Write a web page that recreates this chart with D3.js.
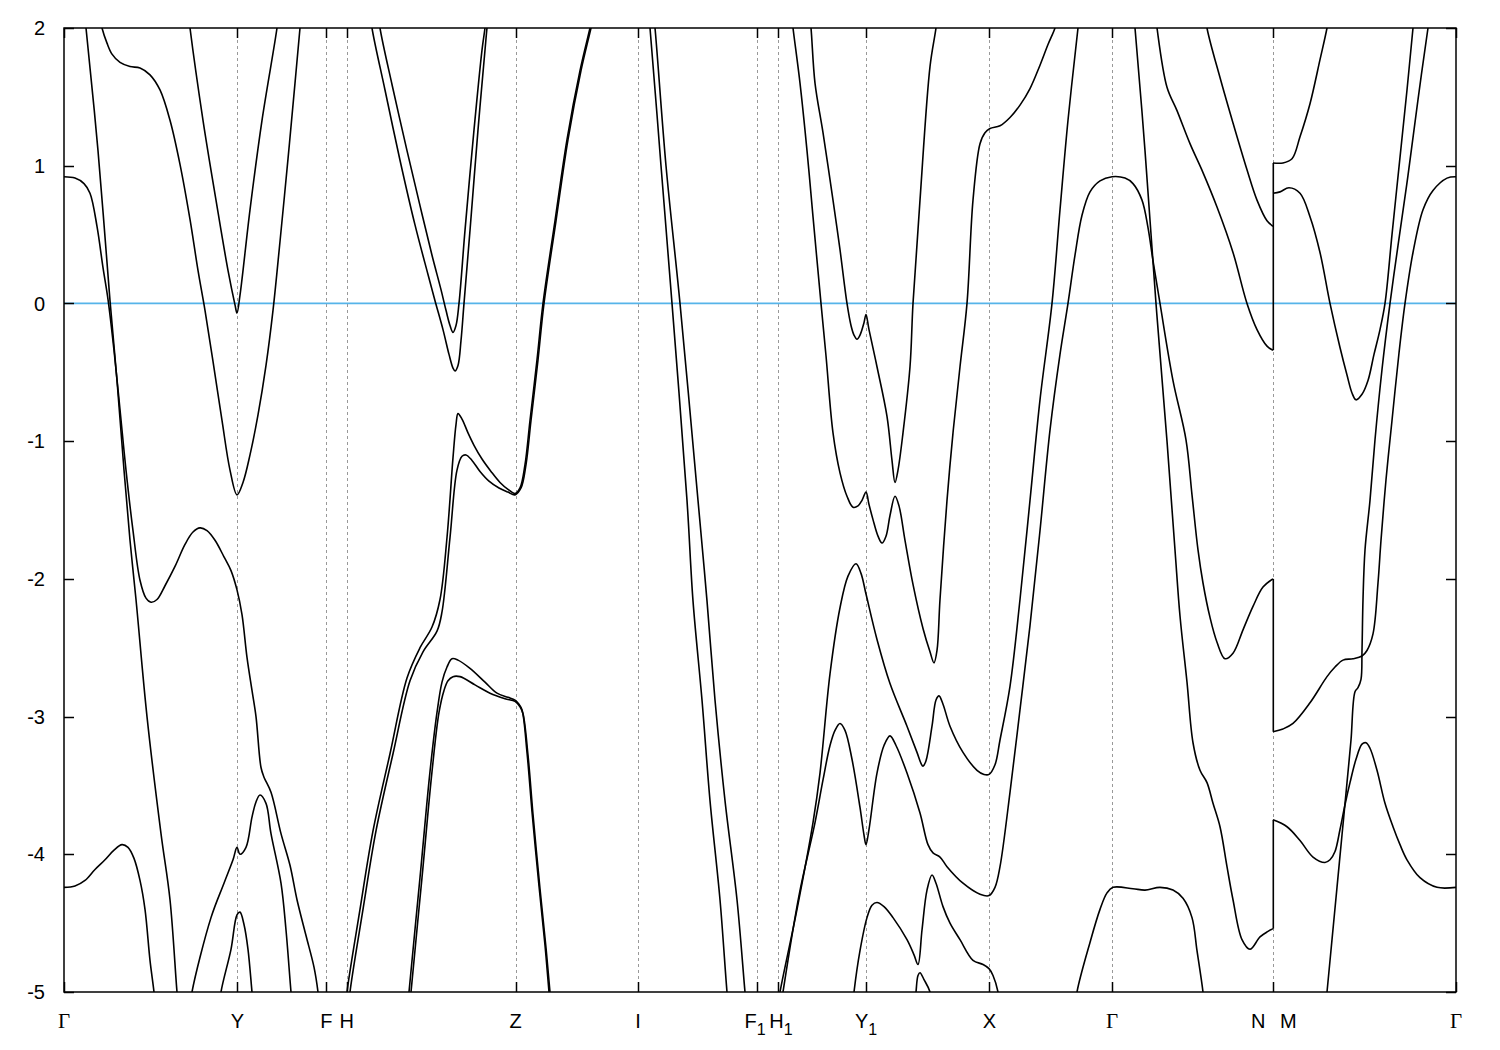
<!DOCTYPE html>
<html><head><meta charset="utf-8">
<script src="https://cdn.jsdelivr.net/npm/d3@7"></script>
<style>body{margin:0;background:#fff}</style>
</head><body>
<svg id="chart" width="1500" height="1050"></svg>
<script>
// ---- high-symmetry points (k path distance) and labels ----
const kTicks  = [0, 1.733, 2.623, 2.827, 4.517, 5.74, 6.925, 7.135, 8.02, 9.253, 10.48, 12.093, 13.92];
const kLabels = ["Γ", "Y", "F", "H", "Z", "I", "F_1", "H_1", "Y_1", "X", "Γ", "N|M", "Γ"];
const eTicks  = [-5, -4, -3, -2, -1, 0, 1, 2];
const fermiLevel = 0;

// ---- bands: [k, E(eV)] ----
const bandA = [[0,0.92],[0.11,0.91],[0.20,0.87],[0.26,0.80],[0.33,0.56],[0.39,0.26],[0.44,0.03],[0.50,-0.34],[0.56,-0.77],[0.62,-1.21],[0.69,-1.65],[0.76,-2.01],[0.82,-2.14],[0.87,-2.17],[0.93,-2.15],[1.01,-2.05],[1.11,-1.91],[1.21,-1.75],[1.29,-1.66],[1.36,-1.63],[1.43,-1.65],[1.51,-1.72],[1.60,-1.84],[1.67,-1.94],[1.73,-2.08],[1.78,-2.26],[1.83,-2.57],[1.88,-2.81],[1.92,-3.00],[1.97,-3.37],[2.00,-3.44],[2.07,-3.55],[2.17,-3.85],[2.26,-4.08],[2.33,-4.33],[2.42,-4.59],[2.50,-4.82],[2.54,-5.0],[2.56,-5.15]];
const bandL1 = [[0.20,2.13],[0.22,2.0],[0.34,1.11],[0.46,0.02],[0.53,-0.56],[0.60,-1.21],[0.66,-1.72],[0.72,-2.15],[0.83,-3.00],[0.97,-3.85],[1.06,-4.33],[1.13,-5.0],[1.15,-5.15]];
const bandG1 = [[0,-4.24],[0.11,-4.23],[0.21,-4.19],[0.31,-4.11],[0.41,-4.04],[0.50,-3.97],[0.58,-3.93],[0.64,-3.95],[0.70,-4.03],[0.76,-4.19],[0.81,-4.40],[0.86,-4.77],[0.90,-5.0],[0.92,-5.15]];
const bandB = [[0.36,2.07],[0.38,2.0],[0.43,1.89],[0.48,1.81],[0.56,1.75],[0.66,1.72],[0.76,1.71],[0.86,1.66],[0.96,1.55],[1.06,1.33],[1.16,1.01],[1.26,0.61],[1.34,0.24],[1.41,-0.05],[1.49,-0.42],[1.58,-0.85],[1.66,-1.21],[1.73,-1.39],[1.79,-1.30],[1.86,-1.10],[1.94,-0.81],[2.02,-0.45],[2.09,-0.05],[2.16,0.45],[2.24,1.05],[2.31,1.60],[2.36,2.0],[2.38,2.15]];
const bandV = [[1.24,2.13],[1.26,2.0],[1.39,1.33],[1.52,0.75],[1.64,0.24],[1.71,-0.01],[1.73,-0.07],[1.76,0.06],[1.86,0.68],[1.98,1.33],[2.13,2.0],[2.15,2.13]];
const bandD = [[1.26,-5.12],[1.28,-5.0],[1.47,-4.46],[1.60,-4.21],[1.69,-4.04],[1.73,-3.95],[1.76,-4.0],[1.82,-3.95],[1.88,-3.73],[1.92,-3.62],[1.96,-3.57],[2.02,-3.63],[2.07,-3.85],[2.17,-4.21],[2.22,-4.55],[2.27,-5.0],[2.29,-5.15]];
const bandE = [[1.55,-5.15],[1.57,-5.0],[1.67,-4.69],[1.73,-4.44],[1.76,-4.42],[1.80,-4.51],[1.84,-4.69],[1.88,-5.0],[1.90,-5.15]];
const bandP1 = [[2.82,-5.1],[2.83,-5.0],[2.96,-4.40],[3.09,-3.83],[3.26,-3.27],[3.43,-2.72],[3.56,-2.50],[3.68,-2.35],[3.76,-2.15],[3.83,-1.70],[3.89,-1.12],[3.92,-0.88],[3.94,-0.80],[3.98,-0.84],[4.04,-0.94],[4.10,-1.03],[4.18,-1.13],[4.27,-1.22],[4.36,-1.30],[4.44,-1.35],[4.51,-1.38],[4.56,-1.34],[4.61,-1.17],[4.66,-0.85],[4.73,-0.41],[4.79,0.0],[4.91,0.60],[5.03,1.19],[5.16,1.69],[5.26,2.0],[5.29,2.1]];
const bandP2 = [[2.85,-5.1],[2.86,-5.0],[2.99,-4.40],[3.12,-3.83],[3.29,-3.27],[3.46,-2.74],[3.59,-2.53],[3.73,-2.38],[3.78,-2.24],[3.86,-1.70],[3.93,-1.21],[3.98,-1.11],[4.02,-1.10],[4.08,-1.14],[4.16,-1.22],[4.25,-1.29],[4.35,-1.34],[4.44,-1.37],[4.51,-1.39],[4.57,-1.34],[4.62,-1.17],[4.67,-0.85],[4.74,-0.41],[4.80,0.0],[4.92,0.60],[5.04,1.19],[5.17,1.69],[5.27,2.0],[5.30,2.1]];
const bandQ1 = [[3.44,-5.1],[3.45,-5.0],[3.56,-4.17],[3.66,-3.40],[3.73,-2.97],[3.78,-2.75],[3.83,-2.64],[3.88,-2.58],[3.94,-2.59],[4.06,-2.65],[4.21,-2.75],[4.33,-2.83],[4.44,-2.86],[4.51,-2.88],[4.55,-2.91],[4.58,-2.95],[4.63,-3.26],[4.68,-3.69],[4.75,-4.23],[4.81,-4.66],[4.85,-5.0],[4.87,-5.15]];
const bandQ2 = [[3.46,-5.1],[3.47,-5.0],[3.58,-4.17],[3.68,-3.40],[3.75,-2.97],[3.80,-2.81],[3.84,-2.74],[3.89,-2.71],[3.96,-2.71],[4.11,-2.77],[4.26,-2.83],[4.41,-2.87],[4.51,-2.89],[4.56,-2.93],[4.59,-2.98],[4.64,-3.28],[4.69,-3.71],[4.76,-4.25],[4.82,-4.68],[4.86,-5.0],[4.88,-5.15]];
const bandU1 = [[3.06,2.13],[3.08,2.0],[3.21,1.55],[3.36,1.04],[3.51,0.57],[3.64,0.21],[3.71,0.02],[3.79,-0.19],[3.85,-0.37],[3.89,-0.47],[3.91,-0.49],[3.94,-0.45],[3.97,-0.27],[4.00,0.0],[4.06,0.53],[4.14,1.26],[4.21,1.84],[4.23,2.0],[4.25,2.13]];
const bandU2 = [[3.14,2.13],[3.16,2.0],[3.28,1.59],[3.43,1.11],[3.56,0.71],[3.68,0.35],[3.77,0.10],[3.82,-0.05],[3.86,-0.16],[3.89,-0.21],[3.92,-0.16],[3.95,0.0],[4.01,0.53],[4.10,1.26],[4.18,1.84],[4.21,2.0],[4.23,2.13]];
const bandI1 = [[5.84,2.13],[5.86,2.0],[5.97,1.0],[6.08,0.0],[6.23,-1.43],[6.29,-2.16],[6.38,-2.88],[6.46,-3.61],[6.56,-4.33],[6.63,-5.0],[6.65,-5.15]];
const bandI2 = [[5.89,2.13],[5.91,2.0],[6.02,1.0],[6.16,0.0],[6.34,-1.43],[6.43,-2.16],[6.51,-2.88],[6.61,-3.61],[6.73,-4.33],[6.81,-5.0],[6.83,-5.15]];
const bandR1 = [[7.14,-5.1],[7.16,-5.0],[7.33,-4.40],[7.49,-3.77],[7.56,-3.41],[7.66,-2.69],[7.76,-2.21],[7.84,-1.98],[7.92,-1.89],[7.97,-1.96],[8.02,-2.11],[8.13,-2.44],[8.26,-2.76],[8.43,-3.07],[8.53,-3.26],[8.57,-3.34],[8.59,-3.36],[8.62,-3.32],[8.68,-3.07],[8.72,-2.88],[8.75,-2.85],[8.79,-2.91],[8.86,-3.07],[8.99,-3.26],[9.13,-3.39],[9.20,-3.42],[9.25,-3.42],[9.31,-3.35],[9.36,-3.17],[9.46,-2.78],[9.56,-2.15],[9.66,-1.43],[9.76,-0.70],[9.88,0.0],[9.96,0.68],[10.04,1.33],[10.14,2.0],[10.16,2.13]];
const bandR2 = [[7.17,-5.1],[7.19,-5.0],[7.35,-4.30],[7.51,-3.77],[7.59,-3.46],[7.66,-3.21],[7.71,-3.10],[7.76,-3.05],[7.81,-3.10],[7.88,-3.31],[7.96,-3.66],[8.00,-3.86],[8.02,-3.93],[8.05,-3.82],[8.13,-3.41],[8.20,-3.21],[8.26,-3.14],[8.32,-3.21],[8.43,-3.41],[8.56,-3.70],[8.64,-3.93],[8.69,-3.99],[8.76,-4.02],[8.83,-4.09],[8.99,-4.21],[9.16,-4.29],[9.25,-4.30],[9.31,-4.24],[9.36,-4.09],[9.46,-3.55],[9.56,-2.95],[9.66,-2.34],[9.76,-1.65],[9.86,-0.92],[9.96,-0.37],[10.04,0.0],[10.11,0.35],[10.18,0.64],[10.26,0.81],[10.36,0.89],[10.48,0.92],[10.61,0.91],[10.69,0.87],[10.78,0.75],[10.84,0.55],[10.89,0.31],[10.96,0.0],[11.09,-0.56],[11.22,-0.99],[11.28,-1.39],[11.34,-1.79],[11.39,-2.03],[11.46,-2.28],[11.53,-2.46],[11.61,-2.58],[11.69,-2.54],[11.79,-2.37],[11.89,-2.20],[11.99,-2.06],[12.09,-2.0]];
const bandS1 = [[7.27,2.13],[7.29,2.0],[7.36,1.60],[7.43,1.11],[7.49,0.63],[7.57,0.0],[7.62,-0.38],[7.69,-0.94],[7.76,-1.23],[7.83,-1.40],[7.89,-1.48],[7.94,-1.47],[7.98,-1.43],[8.02,-1.37],[8.05,-1.46],[8.09,-1.57],[8.14,-1.69],[8.18,-1.74],[8.22,-1.69],[8.26,-1.54],[8.31,-1.40],[8.35,-1.47],[8.41,-1.72],[8.49,-2.04],[8.59,-2.36],[8.66,-2.53],[8.70,-2.61],[8.73,-2.52],[8.76,-2.15],[8.83,-1.43],[8.89,-0.94],[8.96,-0.46],[9.03,0.0],[9.09,0.75],[9.16,1.16],[9.21,1.24],[9.26,1.27],[9.36,1.29],[9.46,1.35],[9.56,1.44],[9.66,1.56],[9.76,1.73],[9.84,1.88],[9.91,2.0],[9.94,2.09]];
const bandS2 = [[7.45,2.13],[7.47,2.0],[7.51,1.60],[7.59,1.24],[7.69,0.75],[7.76,0.39],[7.83,0.0],[7.87,-0.16],[7.90,-0.23],[7.93,-0.26],[7.96,-0.23],[8.00,-0.14],[8.02,-0.08],[8.05,-0.19],[8.13,-0.46],[8.23,-0.82],[8.28,-1.14],[8.31,-1.30],[8.34,-1.21],[8.39,-0.94],[8.46,-0.46],[8.49,0.0],[8.56,0.75],[8.66,1.72],[8.72,2.0],[8.74,2.13]];
const bandT1 = [[7.88,-5.15],[7.90,-5.0],[7.96,-4.70],[8.03,-4.46],[8.08,-4.37],[8.13,-4.35],[8.20,-4.38],[8.29,-4.46],[8.43,-4.62],[8.50,-4.73],[8.54,-4.80],[8.58,-4.55],[8.63,-4.26],[8.68,-4.15],[8.72,-4.21],[8.79,-4.38],[8.86,-4.50],[8.96,-4.62],[9.09,-4.77],[9.19,-4.80],[9.25,-4.83],[9.29,-4.88],[9.34,-5.0],[9.36,-5.15]];
const bandT2 = [[8.50,-5.15],[8.52,-5.0],[8.54,-4.88],[8.56,-4.86],[8.60,-4.91],[8.66,-5.0],[8.68,-5.15]];
const bandG2 = [[10.11,-5.15],[10.13,-5.0],[10.26,-4.64],[10.36,-4.40],[10.43,-4.28],[10.49,-4.24],[10.69,-4.25],[10.81,-4.26],[10.96,-4.24],[11.09,-4.26],[11.19,-4.32],[11.28,-4.46],[11.33,-4.70],[11.39,-5.0],[11.41,-5.15]];
const bandNa = [[10.69,2.13],[10.71,2.0],[10.81,1.11],[10.92,0.0],[11.03,-1.00],[11.11,-1.79],[11.16,-2.27],[11.23,-2.75],[11.29,-3.19],[11.36,-3.39],[11.43,-3.48],[11.49,-3.63],[11.56,-3.80],[11.63,-4.09],[11.69,-4.33],[11.78,-4.62],[11.86,-4.69],[11.96,-4.60],[12.04,-4.56],[12.09,-4.54]];
const bandNc = [[10.91,2.13],[10.93,2.0],[11.03,1.57],[11.13,1.40],[11.26,1.16],[11.39,0.95],[11.53,0.70],[11.69,0.37],[11.83,0.0],[11.93,-0.19],[12.03,-0.31],[12.09,-0.34]];
const bandNd = [[11.41,2.13],[11.43,2.0],[11.56,1.64],[11.69,1.31],[11.83,0.97],[11.93,0.75],[12.03,0.60],[12.09,0.56]];
const bandMf = [[12.09,1.02],[12.19,1.02],[12.28,1.05],[12.36,1.21],[12.46,1.45],[12.56,1.77],[12.63,2.0],[12.66,2.13]];
const bandMg = [[12.09,0.80],[12.16,0.81],[12.25,0.84],[12.36,0.80],[12.46,0.63],[12.56,0.37],[12.66,0.0],[12.76,-0.32],[12.83,-0.52],[12.88,-0.65],[12.92,-0.70],[12.98,-0.66],[13.04,-0.56],[13.10,-0.37],[13.16,-0.19],[13.21,0.0],[13.28,0.50],[13.36,1.06],[13.43,1.55],[13.49,2.0],[13.51,2.13]];
const bandMk = [[13.67,2.13],[13.64,2.0],[13.54,1.48],[13.44,0.93],[13.34,0.42],[13.26,0.0],[13.18,-0.48],[13.11,-0.99],[13.06,-1.43],[13.01,-1.79],[12.99,-2.15],[12.98,-2.52],[12.97,-2.73],[12.94,-2.79],[12.91,-2.82],[12.87,-3.17],[12.83,-3.48],[12.78,-3.86],[12.73,-4.24],[12.68,-4.62],[12.63,-5.0],[12.61,-5.15]];
const bandMv = [[13.92,0.92],[13.83,0.91],[13.69,0.82],[13.59,0.68],[13.49,0.37],[13.41,0.0],[13.35,-0.36],[13.28,-0.85],[13.22,-1.28],[13.17,-1.72],[13.14,-2.03],[13.09,-2.40],[13.03,-2.52],[12.98,-2.56],[12.89,-2.58],[12.79,-2.59],[12.71,-2.64],[12.63,-2.71],[12.46,-2.90],[12.29,-3.05],[12.19,-3.09],[12.09,-3.11]];
const bandMw = [[12.09,-3.75],[12.23,-3.80],[12.36,-3.90],[12.49,-4.02],[12.61,-4.06],[12.66,-4.04],[12.71,-3.98],[12.76,-3.82],[12.81,-3.64],[12.86,-3.48],[12.92,-3.31],[12.98,-3.20],[13.02,-3.19],[13.06,-3.23],[13.13,-3.39],[13.21,-3.63],[13.29,-3.80],[13.36,-3.93],[13.43,-4.04],[13.56,-4.17],[13.73,-4.24],[13.92,-4.24]];
// discontinuities at N|M
const jumpN1 = [[12.093,1.02],[12.093,-0.34]];
const jumpN2 = [[12.093,-2.0],[12.093,-3.11]];
const jumpN3 = [[12.093,-3.75],[12.093,-4.54]];

const bands = [bandA,bandL1,bandG1,bandB,bandV,bandD,bandE,bandP1,bandP2,bandQ1,bandQ2,bandU1,bandU2,bandI1,bandI2,bandR1,bandR2,bandS1,bandS2,bandT1,bandT2,bandG2,bandNa,bandNc,bandNd,bandMf,bandMg,bandMk,bandMv,bandMw];
const jumps = [jumpN1,jumpN2,jumpN3];

// ---- drawing ----
const svg = d3.select("#chart");
const x = d3.scaleLinear().domain([0, 13.92]).range([64, 1456]);
const y = d3.scaleLinear().domain([-5, 2]).range([992, 28]);
const [x0, x1] = x.range(), [y0, y1] = y.range();
const sans = "'Liberation Sans', Arial, Helvetica, sans-serif";
const serif = "'Liberation Serif', 'Times New Roman', serif";

svg.append("rect").attr("width",1500).attr("height",1050).attr("fill","#fff");
svg.append("clipPath").attr("id","plotclip").append("rect")
  .attr("x",x0).attr("y",y1).attr("width",x1-x0).attr("height",y0-y1);

// vertical dashed lines at interior high-symmetry points
svg.append("g").selectAll("line").data(kTicks.slice(1,-1)).join("line")
  .attr("x1",d=>Math.round(x(d))+0.5).attr("x2",d=>Math.round(x(d))+0.5)
  .attr("y1",y1).attr("y2",y0)
  .attr("stroke","#999").attr("stroke-width",1).attr("stroke-dasharray","3,3");

// Fermi level
svg.append("line").attr("x1",x0).attr("x2",x1)
  .attr("y1",y(fermiLevel)).attr("y2",y(fermiLevel))
  .attr("stroke","#56b4e9").attr("stroke-width",1.8);

const line = d3.line().x(d=>x(d[0])).y(d=>y(d[1])).curve(d3.curveCatmullRom.alpha(0.5));
const g = svg.append("g").attr("clip-path","url(#plotclip)");
g.selectAll("path.band").data(bands).join("path").attr("class","band")
  .attr("d",line).attr("fill","none").attr("stroke","#000").attr("stroke-width",1.6)
  .attr("stroke-linejoin","round");
const lin = d3.line().x(d=>x(d[0])).y(d=>y(d[1]));
g.selectAll("path.jump").data(jumps).join("path").attr("class","jump")
  .attr("d",lin).attr("fill","none").attr("stroke","#000").attr("stroke-width",1.6);

// ticks (inward, both sides)
const tk = svg.append("g").attr("stroke","#000").attr("stroke-width",1.5);
eTicks.forEach(v=>{
  const yy = Math.round(y(v))+0.5;
  tk.append("line").attr("x1",x0).attr("x2",x0+10).attr("y1",yy).attr("y2",yy);
  tk.append("line").attr("x1",x1-10).attr("x2",x1).attr("y1",yy).attr("y2",yy);
});
kTicks.forEach(v=>{
  const xx = Math.round(x(v))+0.5;
  tk.append("line").attr("x1",xx).attr("x2",xx).attr("y1",y0).attr("y2",y0-10);
  tk.append("line").attr("x1",xx).attr("x2",xx).attr("y1",y1).attr("y2",y1+10);
});

// frame
svg.append("rect").attr("x",x0).attr("y",y1).attr("width",x1-x0).attr("height",y0-y1)
  .attr("fill","none").attr("stroke","#000").attr("stroke-width",1.5);

// y labels
svg.append("g").selectAll("text").data(eTicks).join("text")
  .attr("x",45).attr("y",d=>y(d)).attr("dy","0.36em")
  .attr("text-anchor","end").attr("font-family",sans).attr("font-size",20)
  .text(d=>String(d));

// x labels (small horizontal nudges keep F1 and H1 apart, as in the reference)
const labelNudge = {"F_1": -1.5, "H_1": 3.5};
const lab = svg.append("g").attr("font-size",20).attr("fill","#000");
kTicks.forEach((v,i)=>{
  const s = kLabels[i], xx = x(v) + (labelNudge[s] || 0), yy = 1028;
  if (s === "Γ") {
    lab.append("text").attr("x",xx).attr("y",yy).attr("text-anchor","middle")
      .attr("font-family",serif).attr("font-size",21).text(s);
  } else if (s.includes("|")) {
    const parts = s.split("|");
    lab.append("text").attr("x",xx-15).attr("y",yy).attr("text-anchor","middle").attr("font-family",sans).text(parts[0]);
    lab.append("text").attr("x",xx+15).attr("y",yy).attr("text-anchor","middle").attr("font-family",sans).text(parts[1]);
  } else if (s.includes("_")) {
    const parts = s.split("_");
    const t = lab.append("text").attr("x",xx).attr("y",yy).attr("text-anchor","middle").attr("font-family",sans);
    t.append("tspan").text(parts[0]);
    t.append("tspan").attr("dy",7).attr("font-size",16).text(parts[1]);
  } else {
    lab.append("text").attr("x",xx).attr("y",yy).attr("text-anchor","middle").attr("font-family",sans).text(s);
  }
});
</script>
</body></html>
